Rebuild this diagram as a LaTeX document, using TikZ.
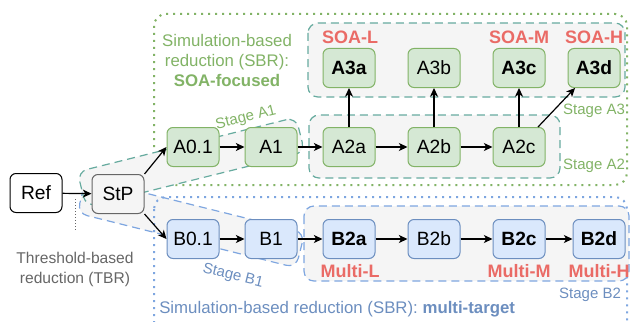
\documentclass[tikz,border=0pt]{standalone}
\usepackage{fontspec}
\setmainfont{Liberation Sans}
\usetikzlibrary{arrows.meta}

\definecolor{gfill}{HTML}{D5E8D4}
\definecolor{gline}{HTML}{82B366}
\definecolor{bfill}{HTML}{DAE8FC}
\definecolor{bline}{HTML}{6C8EBF}
\definecolor{pfill}{HTML}{F5F5F5}
\definecolor{pline}{HTML}{666666}
\definecolor{tealline}{HTML}{67AB9F}
\definecolor{skyline}{HTML}{7EA6E0}
\definecolor{redtext}{HTML}{EA6B66}
\definecolor{graytext}{HTML}{666666}

\begin{document}
\begin{tikzpicture}[x=0.75pt,y=-0.75pt,
  box/.style={draw, rounded corners=4.5pt, minimum width=39pt, minimum height=29.25pt,
    inner sep=0pt, line width=0.75pt, font=\fontsize{14.4}{16}\selectfont},
  gnode/.style={box, fill=gfill, draw=gline},
  bnode/.style={box, fill=bfill, draw=bline},
  stagebox/.style={fill=pfill, line width=0.9pt, dash pattern=on 6pt off 3.75pt,
    rounded corners=7.5pt},
  groupbox/.style={line width=1.5pt, dash pattern=on 1.5pt off 3.75pt, rounded corners=9pt},
  redlabel/.style={text=redtext, font=\fontsize{13.5}{15}\selectfont\bfseries, inner sep=0pt},
  stagelabel/.style={font=\fontsize{11.25}{13}\selectfont, inner sep=0pt},
  conn/.style={-{Stealth[length=6.5pt,width=6pt,inset=1.8pt]}, line width=0.9pt},
]
\useasboundingbox (0,0) rectangle (630,321);
\clip (0,0) rectangle (630,321);

% SBR group: SOA-focused
\draw[groupbox, draw=gline] (154,14) rectangle (627,185);

% rotated stage boxes around the start point
\node[stagebox, draw=skyline, rotate=-14, minimum width=169pt, minimum height=27pt,
  inner sep=0pt] (stB1) at (191,223) {};
\node[stagebox, draw=tealline, rotate=14, minimum width=169pt, minimum height=27pt,
  inner sep=0pt] (stA1) at (191,162) {};

% SBR group: multi-target
\draw[groupbox, draw=skyline] (154,197) rectangle (627,345);

% later stages
\draw[stagebox, draw=tealline] (308,23) rectangle (625,97);
\draw[stagebox, draw=tealline] (309,115) rectangle (560,178);
\draw[stagebox, draw=skyline] (304,206) rectangle (629,281);

% group titles
\node[text=gline, align=center, font=\fontsize{12.6}{15}\selectfont, inner sep=0pt]
  (titleA) at (227,60) {Simulation-based\\reduction (SBR):\\\textbf{SOA-focused}};
\node[text=bline, anchor=west, font=\fontsize{12.6}{15}\selectfont, inner sep=0pt]
  (titleB) at (159,309) {Simulation-based reduction (SBR): \textbf{multi-target}};
\node[text=graytext, align=center, font=\fontsize{11.7}{15}\selectfont, inner sep=0pt]
  (tbr) at (75,269) {Threshold-based\\reduction (TBR)};

% TBR separator
\coordinate (sepTop) at (75,199);
\coordinate (sepBot) at (75,232);
\draw[graytext, line width=0.75pt, dash pattern=on 0.75pt off 1.5pt] (sepTop) -- (sepBot);

% stage labels
\node[stagelabel, text=gline, rotate=14] (lA1) at (246,118) {Stage A1};
\node[stagelabel, text=bline, rotate=-14] (lB1) at (233,276) {Stage B1};
\node[stagelabel, text=gline] (lA2) at (594,166) {Stage A2};
\node[stagelabel, text=gline] (lA3) at (594,111) {Stage A3};
\node[stagelabel, text=bline] (lB2) at (590,295) {Stage B2};

% target labels
\node[redlabel] (soaL) at (350,37) {SOA-L};
\node[redlabel] (soaM) at (519,37) {SOA-M};
\node[redlabel] (soaH) at (594,37) {SOA-H};
\node[redlabel] (mulL) at (350,271) {Multi-L};
\node[redlabel] (mulM) at (519,271) {Multi-M};
\node[redlabel] (mulH) at (599,271) {Multi-H};

% steps
\node[box, fill=white, draw=black] (Ref) at (36,193) {Ref};
\node[box, fill=pfill, draw=pline] (StP) at (118,194) {StP};

\node[gnode] (A01) at (193,147) {A0.1};
\node[gnode] (A1) at (271,147) {A1};
\node[gnode] (A2a) at (349,147) {A2a};
\node[gnode] (A2b) at (434,147) {A2b};
\node[gnode] (A2c) at (519,147) {A2c};
\node[gnode] (A3a) at (349,68) {\textbf{A3a}};
\node[gnode] (A3b) at (434,68) {A3b};
\node[gnode] (A3c) at (519,68) {\textbf{A3c}};
\node[gnode] (A3d) at (594,68) {\textbf{A3d}};

\node[bnode] (B01) at (193,239) {B0.1};
\node[bnode] (B1) at (271,239) {B1};
\node[bnode] (B2a) at (349,239) {\textbf{B2a}};
\node[bnode] (B2b) at (434,239) {B2b};
\node[bnode] (B2c) at (519,239) {\textbf{B2c}};
\node[bnode] (B2d) at (599,239) {\textbf{B2d}};

% connectors
\draw[conn] (Ref) -- (StP);
\draw[conn] (StP.north east) -- (A01.west);
\draw[conn] (StP.south east) -- (B01.west);
\draw[conn] (A01) -- (A1);
\draw[conn] (A1) -- (A2a);
\draw[conn] (A2a) -- (A2b);
\draw[conn] (A2b) -- (A2c);
\draw[conn] (A2a) -- (A3a);
\draw[conn] (A2b) -- (A3b);
\draw[conn] (A2c) -- (A3c);
\draw[conn] (A2c) -- (A3d);
\draw[conn] (B01) -- (B1);
\draw[conn] (B1) -- (B2a);
\draw[conn] (B2a) -- (B2b);
\draw[conn] (B2b) -- (B2c);
\draw[conn] (B2c) -- (B2d);
\end{tikzpicture}
\end{document}
